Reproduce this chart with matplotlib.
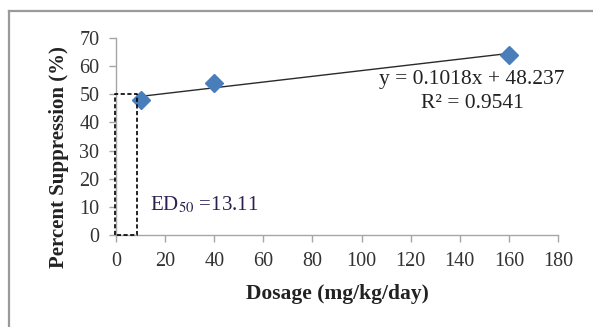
import matplotlib
matplotlib.use("Agg")
import matplotlib.pyplot as plt
from matplotlib.lines import Line2D

# data
dosage = [10, 40, 160]
suppression = [47.8, 54.1, 64.1]
slope, intercept = 0.1018, 48.237
r2 = 0.9541
ed50 = 13.11
ed50_box_x = [-0.6, 8.4]     # dashed guide box as drawn in the source
ed50_box_y = [0, 50]
x_ticks = list(range(0, 181, 20))
y_ticks = list(range(0, 71, 10))

plt.rcParams["font.family"] = ["Liberation Serif", "DejaVu Serif"]

fig = plt.figure(figsize=(5.93, 3.27), dpi=100)
ax = fig.add_axes([0.1956, 0.2813, 0.7454, 0.6025])

# outer frame (only top and left edges visible in the crop)
fig.add_artist(Line2D([9 / 593, 1], [1 - 11 / 327] * 2, color="#9a9a9a", lw=1.6))
fig.add_artist(Line2D([9 / 593] * 2, [0, 1 - 11 / 327], color="#9a9a9a", lw=1.6))

# trend line over the data range
tx = [min(dosage), max(dosage)]
ax.plot(tx, [slope * v + intercept for v in tx], color="#2a2a2a", lw=1.0, zorder=2)
ax.plot(dosage, suppression, ls="none", marker="D", ms=9.5,
        color="#4a7ebb", mec="#4a7ebb", zorder=3)

# ED50 dashed box
bx = [ed50_box_x[0], ed50_box_x[0], ed50_box_x[1], ed50_box_x[1], ed50_box_x[0]]
by = [ed50_box_y[0], ed50_box_y[1], ed50_box_y[1], ed50_box_y[0], ed50_box_y[0]]
ax.plot(bx, by, color="black", ls=(0, (2.5, 1.5)), lw=1.2, clip_on=False, zorder=4)

ax.text(13.8, 10.7, "ED$_{50}$ =%.2f" % ed50, fontsize=15, color="#2b2050",
        va="center", ha="left", math_fontfamily="stix")
ax.text(145, 55.1, "y = %.4fx + %.3f" % (slope, intercept), fontsize=15.5,
        color="#222222", ha="center", va="center")
ax.text(145, 46.9, "R² = %.4f" % r2, fontsize=15.5, color="#222222",
        ha="center", va="center")

ax.set_xlim(0, 180)
ax.set_ylim(0, 70)
ax.set_xticks(x_ticks)
ax.set_yticks(y_ticks)
for s in ["top", "right"]:
    ax.spines[s].set_visible(False)
for s in ["left", "bottom"]:
    ax.spines[s].set_color("#a6a6a6")
    ax.spines[s].set_linewidth(1.0)
ax.tick_params(colors="#a6a6a6", labelcolor="#333333", labelsize=14.5,
               length=5, width=1.0)
ax.tick_params(axis="x", pad=7)
ax.tick_params(axis="y", pad=7)

ax.set_xlabel("Dosage (mg/kg/day)", fontsize=15.5, fontweight="bold", color="#222222")
ax.set_ylabel("Percent Suppression (%)", fontsize=15, fontweight="bold", color="#222222")
ax.xaxis.set_label_coords(0.5, -0.249)
ax.yaxis.set_label_coords(-0.106, 0.396)

fig.savefig("out.png", dpi=100)
